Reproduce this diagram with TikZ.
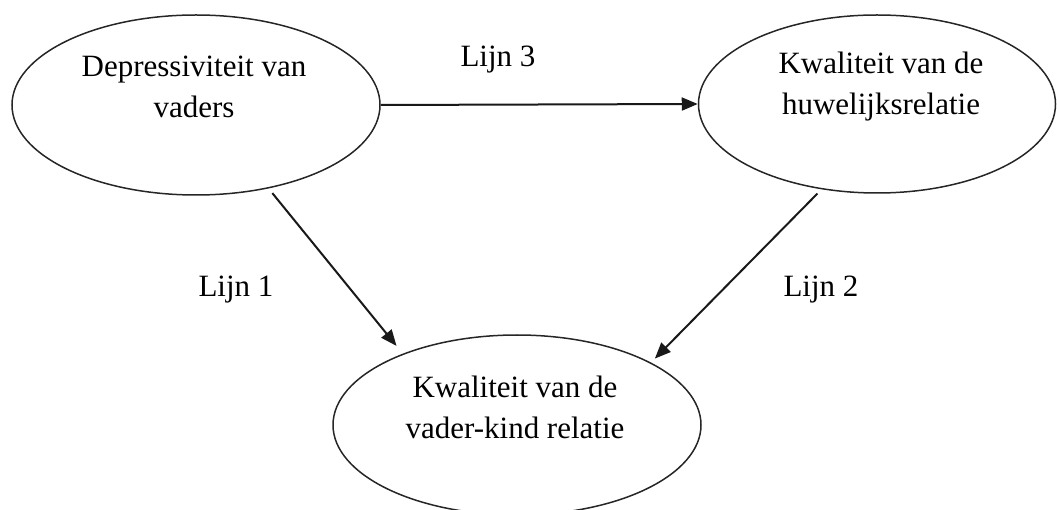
\documentclass[tikz,border=0pt]{standalone}
\usepackage{fontspec}
\setmainfont{Liberation Serif}
\usetikzlibrary{shapes.geometric,arrows.meta}
\tikzset{
  oval/.style={draw=black!85, line width=1.5pt, ellipse, inner sep=0pt},
  lbl/.style={font=\fontsize{31}{41}\selectfont, align=center, inner sep=0pt},
  arr/.style={draw=black!90, line width=2pt, -{Triangle[length=16pt,width=13pt]}}
}
\begin{document}
\begin{tikzpicture}[x=1pt,y=-1pt]
\useasboundingbox (0,0) rectangle (1057,510);
\node[oval, minimum width=368pt, minimum height=180pt] (a) at (196,105) {};
\node[oval, minimum width=357pt, minimum height=178pt] (b) at (877,104) {};
\node[oval, minimum width=368pt, minimum height=180pt] (c) at (517,425) {};
\node[lbl] (ta) at (194,87) {Depressiviteit van\\vaders};
\node[lbl] (tb) at (881,87) {Kwaliteit van de\\huwelijksrelatie};
\node[lbl] (tc) at (515,407) {Kwaliteit van de\\vader-kind relatie};
\node[lbl] (l3) at (498,60) {Lijn 3};
\node[lbl] (l1) at (236,290) {Lijn 1};
\node[lbl] (l2) at (821,290) {Lijn 2};
\draw[arr] (a.east) -- (b.west);
\draw[arr, shorten <=6pt, shorten >=10pt] (a.-49) -- (c.148);
\draw[arr, shorten <=6pt, shorten >=5.5pt] (b.-123) -- (c.25.7);
\end{tikzpicture}
\end{document}
